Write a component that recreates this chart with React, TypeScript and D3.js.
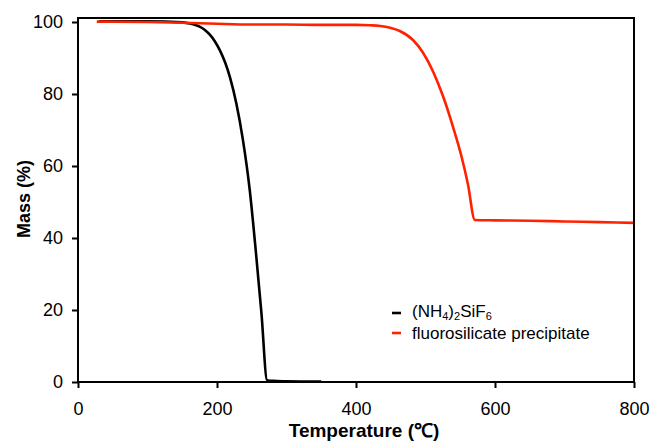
import React, { useEffect, useRef } from 'react';
import * as d3 from 'd3';

// TGA curves: [temperature °C, mass %]
const ammoniumTemp = [30, 100, 150, 161, 170, 175, 183, 190, 197, 204, 212, 219, 228, 237, 247, 256, 264, 272, 280, 300, 350];
const ammoniumMass = [100.2, 100.2, 99.9, 99.6, 99.1, 98.7, 97.7, 96.4, 94.6, 92.2, 88.6, 84.4, 77.2, 67.6, 53.5, 36, 19, 0.5, 0.3, 0.2, 0.1];

const precipTemp = [27, 100, 150, 200, 250, 300, 350, 400, 420, 435, 449, 463, 482, 496, 511, 525, 540, 552, 561, 571, 600, 650, 700, 750, 800];
const precipMass = [100.1, 100, 99.8, 99.5, 99.3, 99.3, 99.2, 99.2, 99.1, 98.9, 98.4, 97.5, 95, 91.6, 86.2, 79.5, 70.6, 62.5, 55, 45, 44.9, 44.8, 44.6, 44.4, 44.2];

const xTicks = [0, 200, 400, 600, 800];
const yTicks = [0, 20, 40, 60, 80, 100];

const W = 653;
const H = 443;
const FONT = "'Liberation Sans', Arial, sans-serif";

const App = () => {
  const svgRef = useRef<SVGSVGElement>(null);

  useEffect(() => {
    const svg = d3.select(svgRef.current);
    svg.selectAll('*').remove();

    const x = d3.scaleLinear().domain([0, 800]).range([78, 634]);
    const y = d3.scaleLinear().domain([0, 100]).range([382, 22]);
    const top = 18;

    const line = d3
      .line<[number, number]>()
      .x(d => x(d[0]))
      .y(d => y(d[1]))
      .curve(d3.curveMonotoneX);

    const series = [
      { temp: ammoniumTemp, mass: ammoniumMass, color: '#000000' },
      { temp: precipTemp, mass: precipMass, color: '#ff2200' },
    ];

    // curves
    series.forEach(s => {
      const pts = s.temp.map((t, i) => [t, s.mass[i]] as [number, number]);
      svg
        .append('path')
        .attr('d', line(pts))
        .attr('fill', 'none')
        .attr('stroke', s.color)
        .attr('stroke-width', 2.6)
        .attr('stroke-linejoin', 'round');
    });

    // frame
    svg
      .append('rect')
      .attr('x', x(0))
      .attr('y', top)
      .attr('width', x(800) - x(0))
      .attr('height', y(0) - top)
      .attr('fill', 'none')
      .attr('stroke', '#000')
      .attr('stroke-width', 2);

    // x axis
    const xAxis = svg
      .append('g')
      .attr('transform', `translate(0,${y(0)})`)
      .call(d3.axisBottom(x).tickValues(xTicks).tickSize(6).tickPadding(14).tickFormat(d3.format('d')));
    xAxis.select('.domain').remove();
    xAxis.selectAll('line').attr('stroke-width', 2);
    xAxis.selectAll('text').attr('font-size', 18).attr('font-family', FONT).attr('fill', '#000');

    // y axis
    const yAxis = svg
      .append('g')
      .attr('transform', `translate(${x(0)},0)`)
      .call(d3.axisLeft(y).tickValues(yTicks).tickSize(6).tickPadding(9).tickFormat(d3.format('d')));
    yAxis.select('.domain').remove();
    yAxis.selectAll('line').attr('stroke-width', 2);
    yAxis.selectAll('text').attr('font-size', 18).attr('font-family', FONT).attr('fill', '#000');

    // axis titles
    svg
      .append('text')
      .attr('x', 364)
      .attr('y', 437)
      .attr('text-anchor', 'middle')
      .attr('font-family', FONT)
      .attr('font-weight', 'bold')
      .attr('font-size', 19)
      .text('Temperature (℃)');

    svg
      .append('text')
      .attr('transform', 'translate(30,199) rotate(-90)')
      .attr('text-anchor', 'middle')
      .attr('font-family', FONT)
      .attr('font-weight', 'bold')
      .attr('font-size', 18)
      .text('Mass (%)');

    // legend
    const legend = svg.append('g').attr('font-family', FONT).attr('font-size', 17);
    const rows = [
      { color: '#000000', y: 313 },
      { color: '#ff2200', y: 333 },
    ];
    rows.forEach(r => {
      legend
        .append('line')
        .attr('x1', 392)
        .attr('x2', 401)
        .attr('y1', r.y)
        .attr('y2', r.y)
        .attr('stroke', r.color)
        .attr('stroke-width', 2.6);
    });

    const t1 = legend.append('text').attr('x', 412).attr('y', 317);
    t1.append('tspan').text('(NH');
    t1.append('tspan').attr('font-size', 11).attr('dy', 3).text('4');
    t1.append('tspan').attr('dy', -3).text(')');
    t1.append('tspan').attr('font-size', 11).attr('dy', 3).text('2');
    t1.append('tspan').attr('dy', -3).text('SiF');
    t1.append('tspan').attr('font-size', 11).attr('dy', 3).text('6');

    legend.append('text').attr('x', 412).attr('y', 339).text('fluorosilicate precipitate');
  }, []);

  return (
    <svg
      ref={svgRef}
      width={W}
      height={H}
      style={{ position: 'absolute', left: 0, top: 0, background: '#fff' }}
    />
  );
};

export default App;
